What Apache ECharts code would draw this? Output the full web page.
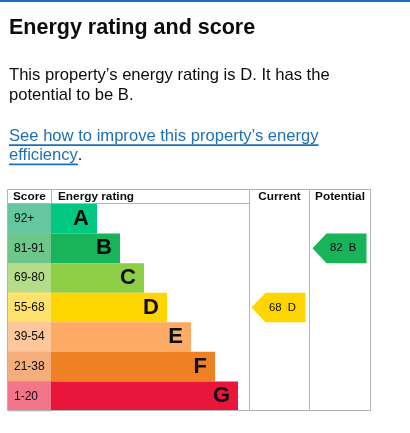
<!DOCTYPE html>
<html><head><meta charset="utf-8">
<script src="https://cdn.jsdelivr.net/npm/echarts@6/dist/echarts.min.js"></script>
<style>html,body{margin:0;padding:0;background:#fff}#c{width:410px;height:433px}</style>
</head><body><div id="c"></div>
<script>
// ---- data ----
const ratings = ['A', 'B', 'C', 'D', 'E', 'F', 'G'];
const scoreRanges = ['92+', '81-91', '69-80', '55-68', '39-54', '21-38', '1-20'];
const barLengths = [46, 69, 93, 116, 140, 164, 187];
const ratingColors = ['#00c781', '#19b459', '#8dce46', '#ffd500', '#fcaa65', '#ef8023', '#e9153b'];
const scoreColors = ['#64c7a0', '#6dc68a', '#b5dc8b', '#ffe26c', '#fec79b', '#f4ae7b', '#f2758a'];
const columnNames = ['Current', 'Potential'];
const indicatorScores = [68, 82];
const indicatorRatings = ['D', 'B'];

const titleText = 'Energy rating and score';
const paraLines = ['This property\u2019s energy rating is D. It has the', 'potential to be B.'];
const linkLines = ['See how to improve this property\u2019s energy', 'efficiency'];

// ---- layout ----
const FONT = 'Liberation Sans, Arial, Helvetica, sans-serif';
const BLUE = '#1d70b8';
const INK = '#0b0c0c';
const LINE = '#b1b4b6';
const T = { left: 7, right: 371, top: 189, head: 204, bottom: 411, scoreR: 51, ratingR: 249, curR: 309 };

const cv = document.createElement('canvas').getContext('2d');
function tw(text, size, weight) { cv.font = (weight || 'normal') + ' ' + size + 'px ' + FONT; return cv.measureText(text).width; }

const PS = 16.6;
const graphics = [];
graphics.push({ type: 'rect', shape: { x: 0, y: 0, width: 410, height: 2 }, style: { fill: BLUE } });
graphics.push({ type: 'text', x: 9, y: 35 - 0.34 * 21.5, style: { text: titleText, fontSize: 21.5, fontWeight: 'bold', fontFamily: FONT, fill: INK, verticalAlign: 'middle' } });
[81, 100.7].forEach((b, i) => graphics.push({ type: 'text', x: 9, y: b - 0.34 * PS, style: { text: paraLines[i], fontSize: PS, fontFamily: FONT, fill: INK, verticalAlign: 'middle' } }));
[141.7, 161].forEach((b, i) => {
  graphics.push({ type: 'text', x: 9, y: b - 0.34 * PS, style: { text: linkLines[i], fontSize: PS, fontFamily: FONT, fill: BLUE, verticalAlign: 'middle' } });
  const w = tw(linkLines[i], PS);
  graphics.push({ type: 'rect', shape: { x: 9, y: b + 2.5, width: w, height: 1.8 }, style: { fill: BLUE } });
  if (i === 1) graphics.push({ type: 'text', x: 9 + w, y: b - 0.34 * PS, style: { text: '.', fontSize: PS, fontFamily: FONT, fill: INK, verticalAlign: 'middle' } });
});
// table frame
const ln = (x1, y1, x2, y2) => ({ type: 'line', z: 100, shape: { x1, y1, x2, y2 }, style: { stroke: LINE, lineWidth: 1 } });
graphics.push({ type: 'rect', z: 100, shape: { x: T.left + 0.5, y: T.top + 0.5, width: T.right - T.left - 1, height: T.bottom - T.top - 1 }, style: { fill: 'none', stroke: LINE, lineWidth: 1 } });
graphics.push(ln(T.left, T.head - 0.5, T.ratingR, T.head - 0.5));
graphics.push(ln(T.scoreR + 0.5, T.top, T.scoreR + 0.5, T.head));
graphics.push(ln(T.ratingR + 0.5, T.top, T.ratingR + 0.5, T.bottom));
graphics.push(ln(T.curR + 0.5, T.top, T.curR + 0.5, T.bottom));
const hy = (T.top + T.head) / 2 + 0.5;
const hdr = (text, x, align) => ({ type: 'text', z: 101, x, y: hy, style: { text, fontSize: 11.8, fontWeight: 'bold', fontFamily: FONT, fill: INK, align, verticalAlign: 'middle' } });
graphics.push(hdr('Score', 13, 'left'));
graphics.push(hdr('Energy rating', 58, 'left'));
graphics.push(hdr(columnNames[0], (T.ratingR + T.curR) / 2 + 0.5, 'center'));
graphics.push(hdr(columnNames[1], (T.curR + T.right) / 2, 'center'));

const rich = {};
scoreColors.forEach((c, i) => { rich['s' + i] = { backgroundColor: c, width: 38, height: 30, lineHeight: 30, padding: [0, 0, 0, 6], fontSize: 12, fontFamily: FONT, color: INK }; });

const option = {
  animation: false,
  grid: [
    { left: T.scoreR, top: T.head, width: 187, height: T.bottom - T.head },
    { left: T.ratingR, top: T.head, width: T.right - T.ratingR, height: T.bottom - T.head }
  ],
  xAxis: [
    { gridIndex: 0, type: 'value', min: 0, max: 187, show: false },
    { gridIndex: 1, type: 'category', data: columnNames, show: false }
  ],
  yAxis: [
    { gridIndex: 0, type: 'category', inverse: true, data: scoreRanges,
      axisLine: { show: false }, axisTick: { show: false }, splitLine: { show: false },
      axisLabel: { interval: 0, hideOverlap: false, showMinLabel: true, showMaxLabel: true,
        align: 'left', margin: T.scoreR - T.left - 1, formatter: (v, i) => '{s' + i + '|' + v + '}', rich } },
    { gridIndex: 1, type: 'category', inverse: true, data: ratings, show: false }
  ],
  series: [
    { type: 'bar', xAxisIndex: 0, yAxisIndex: 0, barCategoryGap: '0%',
      data: barLengths.map((v, i) => ({ value: v, itemStyle: { color: ratingColors[i] } })),
      label: { show: true, position: 'insideRight', distance: 8, formatter: p => ratings[p.dataIndex],
        fontSize: 22, fontWeight: 'bold', fontFamily: FONT, color: INK } },
    { type: 'custom', xAxisIndex: 1, yAxisIndex: 1,
      data: indicatorScores.map((s, i) => [i, ratings.indexOf(indicatorRatings[i]), s, indicatorRatings[i]]),
      renderItem: (params, api) => {
        const c = api.coord([api.value(0), api.value(1)]);
        const cw = api.size([1, 0])[0], rh = api.size([0, 1])[1];
        const l = c[0] - cw / 2 + 2.5, r = l + 54, t = c[1] - rh / 2, b = c[1] + rh / 2, tip = 14;
        const idx = api.value(1);
        return { type: 'group', children: [
          { type: 'polygon', shape: { points: [[l, c[1]], [l + tip, t], [r, t], [r, b], [l + tip, b]] }, style: { fill: ratingColors[idx] } },
          { type: 'text', x: l + 17.5, y: c[1], style: { text: api.value(2) + '  ' + indicatorRatings[params.dataIndex], fontSize: 11.3, fontFamily: FONT, fill: INK, verticalAlign: 'middle' } }
        ] };
      } }
  ],
  graphic: graphics
};
const chart = echarts.init(document.getElementById('c'), null, { renderer: 'canvas' });
chart.setOption(option);
</script>
</body></html>
